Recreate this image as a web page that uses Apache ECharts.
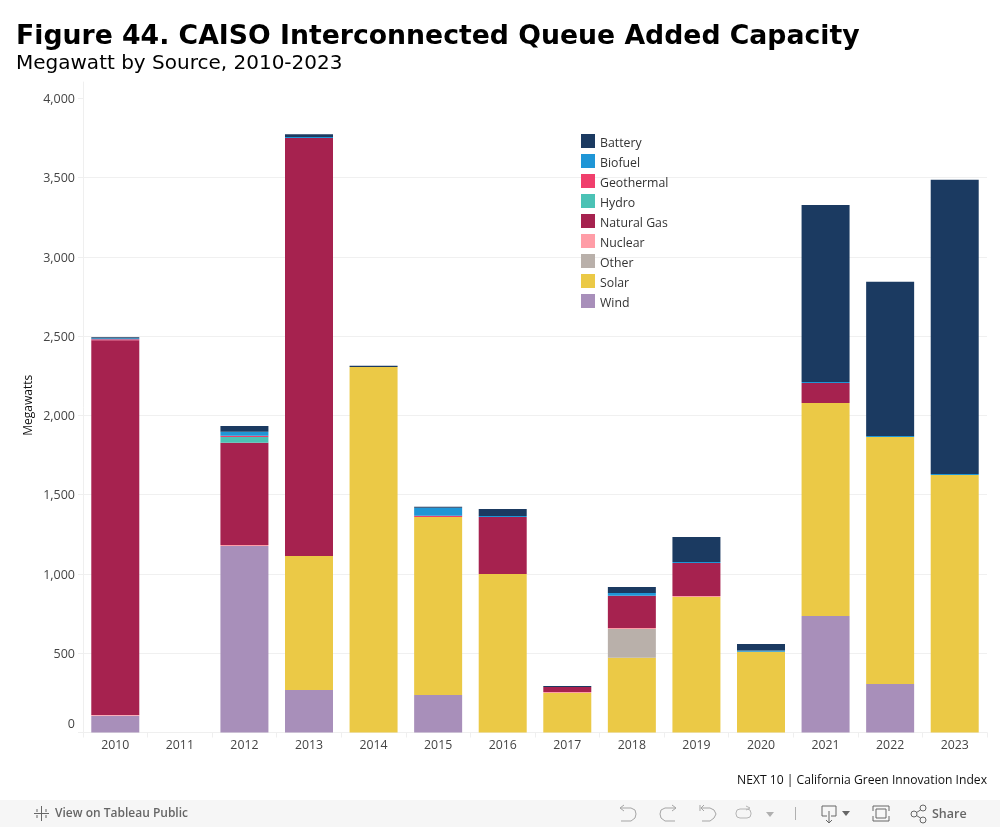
<!DOCTYPE html>
<html><head><meta charset="utf-8">
<style>html,body{margin:0;padding:0;background:#fff}#c{width:1000px;height:827px}</style>
<script src="https://cdn.jsdelivr.net/npm/echarts@6/dist/echarts.min.js"></script>
</head><body><div id="c"></div>
<script>
const years = ['2010','2011','2012','2013','2014','2015','2016','2017','2018','2019','2020','2021','2022','2023'];
const wind    = [105,0,1177,268,0,237,0,0,0,0,0,735,306,0];
const solar   = [0,0,0,845,2306,1123,1000,249,472,855,510,1344,1559,1625];
const other   = [0,0,0,0,0,0,0,0,181,0,0,0,0,0];
const nuclear = [6,0,6,0,0,0,0,6,6,6,0,0,0,0];
const natGas  = [2364,0,645,2637,0,0,360,32,204,209,0,126,0,0];
const hydro   = [0,0,37,0,0,0,0,0,0,0,0,0,0,0];
const geothermal = [6,0,7,0,0,8,0,0,0,0,0,0,0,0];
const biofuel = [6,0,25,7,0,50,6,0,17,6,7,7,6,6];
const battery = [6,0,37,18,8,6,44,6,38,158,41,1116,972,1856];
const yTicks = [0,500,1000,1500,2000,2500,3000,3500,4000];
const sourceNames = ['Wind','Solar','Other','Nuclear','Natural Gas','Hydro','Geothermal','Biofuel','Battery'];
const sourceValues = [wind,solar,other,nuclear,natGas,hydro,geothermal,biofuel,battery];
const sourceColors = ['#a88fba','#ebc946','#b9b0aa','#ff9da7','#a6224f','#4bc2b5','#f03f6c','#1f96d6','#1b3a61'];

const chart = echarts.init(document.getElementById('c'), null, {renderer:'canvas'});
const grey = '#666', light = '#a5a5a5';
const poly = (pts,c) => ({type:'polyline', shape:{points:pts}, style:{stroke:c||light, lineWidth:1, fill:null}, silent:true});
const box = (x,y,w,h,c,r) => ({type:'rect', shape:{x,y,width:w,height:h,r:r||0}, style:{stroke:c||light, lineWidth:1, fill:null}, silent:true});
const circ = (cx,cy,r,c) => ({type:'circle', shape:{cx,cy,r}, style:{stroke:c||light, lineWidth:1, fill:null}, silent:true});
const tri = (pts,c) => ({type:'polygon', shape:{points:pts}, style:{fill:c}, silent:true});
const labelFont = {fontFamily:'Open Sans', fontSize:12.5, color:'#444'};
chart.setOption({
  animation:false,
  backgroundColor:'#fff',
  textStyle:{fontFamily:'Open Sans'},
  title:[
    {text:'Figure 44. CAISO Interconnected Queue Added Capacity', left:16, top:24, padding:0,
     textStyle:{fontFamily:'DejaVu Sans', fontSize:26.7, fontWeight:'bold', color:'#000'}},
    {text:'Megawatt by Source, 2010-2023', left:16, top:54, padding:0,
     textStyle:{fontFamily:'DejaVu Sans', fontSize:20, fontWeight:'normal', color:'#000'}}
  ],
  legend:{
    orient:'vertical', left:581, top:134, padding:0, itemWidth:14, itemHeight:14, itemGap:5,
    data:sourceNames.slice().reverse(), selectedMode:false,
    icon:'rect', formatter:'{a|{name}}',
    textStyle:{fontFamily:'Open Sans', fontSize:12.3, color:'#333',
      rich:{a:{fontFamily:'Open Sans', fontSize:12.3, color:'#333', padding:[4,0,0,0]}}}
  },
  grid:{left:83, right:13, top:82, height:650.5, containLabel:false},
  xAxis:{
    type:'category', data:years,
    axisLine:{show:true, lineStyle:{color:'#efefef'}},
    axisTick:{show:true, length:5, lineStyle:{color:'#efefef'}},
    axisLabel:{color:'#444', fontSize:12.3, margin:7, fontFamily:'Open Sans'}
  },
  yAxis:{
    type:'value', min:0, max:4104, interval:500,
    name:'Megawatts', nameLocation:'middle', nameGap:48, nameRotate:90, nameMoveOverlap:false,
    nameTextStyle:{color:'#111', fontSize:12, fontFamily:'Open Sans', padding:[0,0,0,4]},
    axisLine:{show:true, lineStyle:{color:'#efefef'}},
    axisTick:{show:true, length:5, lineStyle:{color:'#efefef'}, customValues:yTicks},
    splitLine:{show:true, showMinLine:false, showMaxLine:false, lineStyle:{color:'#f0f0f0'}},
    axisLabel:{color:'#444', fontSize:12.5, margin:8, fontFamily:'Open Sans', customValues:yTicks,
      verticalAlignMinLabel:'bottom',
      rich:{a:Object.assign({padding:[2,0,0,0]},labelFont), z:Object.assign({padding:[0,0,2,0]},labelFont)},
      formatter:v => v === 0 ? '{z|0}' : '{a|' + v.toLocaleString('en-US') + '}'}
  },
  series:sourceNames.map((n,i)=>({
    name:n, type:'bar', stack:'t', barWidth:48, barMinHeight:1,
    data:sourceValues[i].map(v => v === 0 ? null : v),
    itemStyle:{color:sourceColors[i]}
  })),
  graphic:{elements:[
    {type:'text', x:737, y:775, style:{text:'NEXT 10 | California Green Innovation Index', font:'12.15px "Open Sans"', fill:'#111'}},
    {type:'rect', shape:{x:0,y:800,width:1000,height:27}, style:{fill:'#f6f6f6'}, silent:true},
    {type:'text', x:55, y:808, style:{text:'View on Tableau Public', font:'600 12px "Open Sans"', fill:grey}},
    poly([[41.5,806],[41.5,821]],grey), poly([[34,813.5],[49,813.5]],grey),
    poly([[37,809],[37,812]],grey), poly([[46,815],[46,818]],grey),
    poly([[37,815],[37,818]],grey), poly([[46,809],[46,812]],grey),
    // undo, redo, revert, refresh
    poly([[624,805],[620,808],[624,811]]), poly([[620,808],[631,808],[635,810],[636,814],[635,818],[631,821],[621,821]]),
    poly([[672,805],[676,808],[672,811]]), poly([[676,808],[665,808],[661,810],[660,814],[661,818],[665,821],[675,821]]),
    poly([[700,805],[700,811]]), poly([[704,805],[701,808],[704,811]]), poly([[701,808],[710,808],[714,810],[716,814],[714,818],[710,821],[702,821]]),
    box(736,809,15,9,'#b5b5b5',4), poly([[746,806],[750,808],[746,810]],'#b5b5b5'),
    tri([[766,812],[774,812],[770,817]],'#b0b0b0'),
    poly([[795.5,807],[795.5,820]],'#b0b0b0'),
    // download
    poly([[827,816],[822,816],[822,806],[836,806],[836,816],[831,816]],grey),
    poly([[829,811],[829,823]],grey), poly([[826,820],[829,823],[832,820]],grey),
    tri([[842,811],[850,811],[846,816]],grey),
    // fullscreen
    poly([[873,811],[873,806],[889,806],[889,811]],grey), poly([[873,816],[873,821],[889,821],[889,816]],grey),
    box(876,809,10,9,grey),
    // share
    circ(914,814,3,grey), circ(923,808,3,grey), circ(923,820,3,grey),
    poly([[916.5,812.5],[920.5,810]],grey), poly([[916.5,815.5],[920.5,818]],grey),
    {type:'text', x:932, y:808, style:{text:'Share', font:'600 12.5px "Open Sans"', fill:grey}}
  ]}
});
</script></body></html>
